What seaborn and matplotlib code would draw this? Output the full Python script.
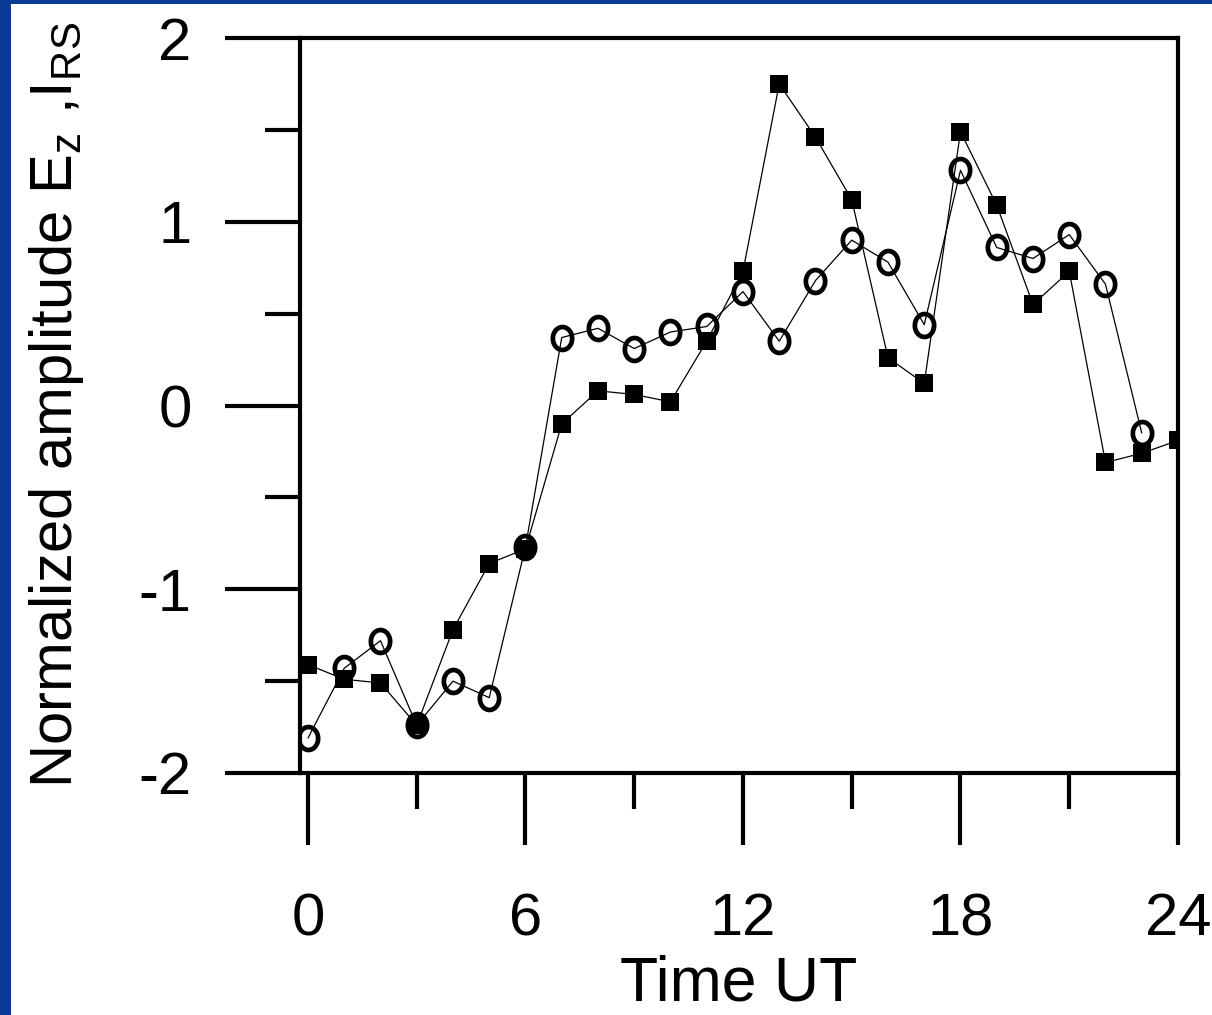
import numpy as np
import matplotlib
matplotlib.use("Agg")
import matplotlib.pyplot as plt
from matplotlib.path import Path
from matplotlib.patches import Rectangle
import seaborn as sns

# hours UT
hours_sq = list(range(0, 25))
hours_circ = list(range(0, 24))

# filled squares series
ez_vals = [-1.41, -1.49, -1.51, -1.74, -1.22, -0.86, -0.78, -0.10, 0.08, 0.06,
           0.02, 0.35, 0.73, 1.75, 1.46, 1.12, 0.26, 0.12, 1.49, 1.09,
           0.55, 0.73, -0.31, -0.26, -0.19]
# open circles series
irs_vals = [-1.81, -1.43, -1.28, -1.74, -1.50, -1.59, -0.77, 0.37, 0.42, 0.31,
            0.40, 0.43, 0.62, 0.35, 0.68, 0.90, 0.78, 0.44, 1.28, 0.86,
            0.80, 0.93, 0.66, -0.15]

sns.set_style("ticks")
plt.rcParams['font.family'] = ['Liberation Sans', 'DejaVu Sans']
plt.rcParams['mathtext.fontset'] = 'custom'
plt.rcParams['mathtext.rm'] = 'Liberation Sans'
plt.rcParams['axes.unicode_minus'] = False
plt.rcParams['text.color'] = 'black'
plt.rcParams['axes.labelcolor'] = 'black'

fig = plt.figure(figsize=(12.12, 10.15), dpi=100, facecolor='#0b3a96')
# white slide area
fig.patches.append(Rectangle((11 / 1212, 0), 1, 1 - 4 / 1015, transform=fig.transFigure,
                             facecolor='white', edgecolor='none', zorder=-10))
ax = fig.add_axes([300 / 1212, 1 - 773 / 1015, 878 / 1212, 735 / 1015])
ax.set_zorder(2)
ax.set_facecolor('white')

# ellipse marker like an "o" glyph
t = np.linspace(0, 2 * np.pi, 60)
ell = Path(np.column_stack([0.84 * np.cos(t), np.sin(t)]), closed=True)

sns.lineplot(x=hours_sq, y=ez_vals, ax=ax, color='black', lw=0.9,
             marker='s', markersize=12.5, markeredgewidth=0, markerfacecolor='black',
             zorder=3)
sns.lineplot(x=hours_circ, y=irs_vals, ax=ax, color='black', lw=0.9,
             marker=ell, markersize=16.5, markeredgewidth=3.4, markerfacecolor='none',
             markeredgecolor='black', zorder=4)

ax.set_xlim(-0.22, 24)
ax.set_ylim(-2, 2)

ax.set_xticks([0, 6, 12, 18, 24])
ax.set_xticks([3, 9, 15, 21], minor=True)
ax.set_yticks([-2, -1, 0, 1, 2])
ax.set_yticks([-1.5, -0.5, 0.5, 1.5], minor=True)

for s in ax.spines.values():
    s.set_linewidth(3)
    s.set_color('black')

ax.tick_params(axis='x', which='major', length=52, width=3, direction='out', pad=34,
               labelsize=43, colors='black')
ax.tick_params(axis='x', which='minor', length=26, width=3, direction='out', colors='black')
ax.tick_params(axis='y', which='major', length=54, width=3, direction='out', pad=24,
               labelsize=43, colors='black')
ax.tick_params(axis='y', which='minor', length=25, width=3, direction='out', colors='black')

ax.set_xlabel('Time UT', fontsize=45, labelpad=5)
ax.set_ylabel(r'Normalized amplitude E$_\mathregular{z}$ ,I$_\mathregular{RS}$',
              fontsize=43, labelpad=38)

fig.savefig('out.png', dpi=100, facecolor=fig.get_facecolor())
